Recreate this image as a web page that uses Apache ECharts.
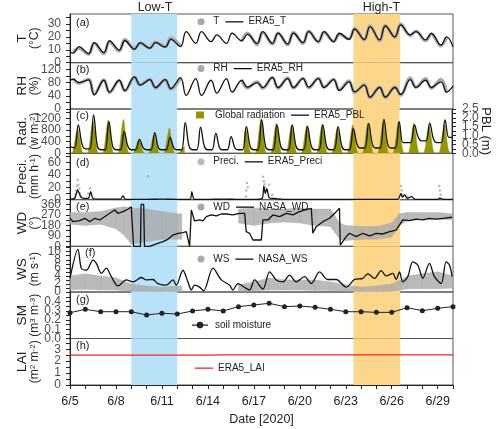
<!DOCTYPE html>
<html><head><meta charset="utf-8">
<script src="https://cdn.jsdelivr.net/npm/echarts@6/dist/echarts.min.js"></script>
<style>html,body{margin:0;padding:0;background:#fff}#c{width:500px;height:429px}</style>
</head><body><div id="c"></div>
<script>
// ================= DATA =================
// time unit: days since 2020-06-05 00:00
const dateLabels = ['6/5','6/8','6/11','6/14','6/17','6/20','6/23','6/26','6/29'];
const dateLabelDays = [0,3,6,9,12,15,18,21,24];
const lowTPeriod = [4.0, 7.0];
const highTPeriod = [18.5, 21.55];

// (a) temperature, per day [min at 05h, max at 14h]
const tEra5Start = 8.2, tEra5End = 12.4;
const tEra5 = [[7.5,12.4],[7.0,15.5],[7.8,17.0],[9.8,17.0],[10.4,15.5],[11.2,15.5],[12.0,18.0],[12.4,24.0],[15.0,24.0],[16.3,21.5],[15.0,22.8],[17.0,22.0],[15.0,24.0],[15.0,22.8],[14.5,22.8],[15.5,24.0],[16.3,24.0],[16.3,22.8],[18.0,25.9],[18.0,28.0],[17.6,28.4],[20.0,29.2],[21.5,24.0],[17.6,22.8],[13.7,20.0]];
const tObs = [[8.5,11.0],[6.5,15.0],[7.0,16.0],[9.0,18.0],[10.8,15.0],[11.5,16.0],[12.5,19.0],[13.0,null],[null,null],[null,null],[null,null],[16.5,23.0],[14.0,23.5],[14.5,23.0],[14.0,23.5],[15.0,24.5],[16.0,23.5],[16.5,22.0],[18.5,26.5],[17.5,28.5],[17.0,29.0],[19.5,30.0],[21.0,24.5],[17.0,22.0],[13.0,19.5]];
// (b) relative humidity, per day [max at 05h, min at 14h]
const rhEra5Start = 87, rhEra5End = 69;
const rhEra5 = [[90,80],[88,43],[87,51],[87,56],[97,72],[89,65],[89,62],[95,41],[92,41],[87,48],[92,51],[87,66],[80,65],[95,65],[92,65],[92,66],[92,65],[89,56],[82,52],[72,36],[65,36],[65,44],[89,65],[87,65],[82,51]];
const rhObs = [[92,78],[90,45],[88,50],[86,55],[96,74],[90,63],[88,60],[93,null],[null,null],[null,null],[null,null],[88,64],[82,62],[96,63],[94,64],[93,64],[93,66],[90,58],[85,50],[74,34],[66,35],[67,42],[94,66],[92,63],[90,50]];
// (c) global radiation, per day values at [06h,09h,12h,15h,18h] (0 at night)
const radObs = [[200,600,820,560,150],[220,750,1080,750,160],[220,760,1140,720,160],[220,800,1160,680,150],[120,320,455,320,100],[140,430,630,400,110],[180,560,860,520,130],[100,180,230,null,null],[null,null,null,null,null],[null,null,null,null,null],[null,null,null,null,null],[null,360,850,540,140],[220,760,1200,700,160],[210,700,1030,650,160],[200,650,970,600,150],[200,650,970,600,150],[200,660,1000,620,150],[190,600,860,560,140],[200,650,970,600,150],[210,700,1030,650,160],[210,720,1080,660,160],[210,720,1080,660,160],[210,700,1030,650,160],[200,660,970,600,150],[200,650,970,600,150]];
// (c) ERA5 PBL, per day values at [00h,07h,13h,19h]
const pblEra5End = 0.9;
const pblEra5 = [[0.37,0.3,1.6,0.5],[0.25,0.25,2.16,0.4],[0.2,0.2,1.78,0.4],[0.2,0.2,1.22,0.4],[0.2,0.2,0.79,0.3],[0.2,0.2,1.16,0.3],[0.2,0.2,0.9,0.3],[0.2,0.2,1.73,0.4],[0.2,0.2,1.47,0.4],[0.2,0.2,1.13,0.3],[0.2,0.2,0.94,0.3],[0.2,0.2,1.5,0.4],[0.2,0.2,1.88,0.4],[0.2,0.2,1.6,0.4],[0.2,0.2,1.6,0.4],[0.2,0.2,1.5,0.4],[0.2,0.2,1.6,0.4],[0.2,0.2,1.5,0.4],[0.2,0.2,1.41,0.5],[0.3,0.3,1.69,0.5],[0.3,0.3,1.92,0.5],[0.3,0.3,1.78,0.6],[0.6,0.6,1.6,0.9],[0.7,0.7,1.7,0.8],[0.6,0.6,1.88,0.9]];
// (d) precipitation [day, mm/h]
const preciObs = [[0.3,3],[0.35,8],[0.4,15],[0.45,22],[0.5,32],[0.5,12],[0.55,24],[0.6,18],[0.65,10],[0.7,5],[1.2,10],[1.3,18],[3.5,5],[5.1,38],[11.5,5],[11.5,15],[11.55,27],[11.6,20],[12.6,37],[12.65,30],[12.7,25],[12.75,20],[12.8,15],[13.0,24],[13.2,8],[21.6,22],[21.65,15],[21.7,8],[22.0,5],[24.1,22],[24.15,15],[24.2,8]];
const preciEra5 = [[0,1],[0.3,2],[0.5,16],[0.7,5],[0.9,2],[1.2,2],[1.35,13],[1.5,2],[2,1],[3.3,1],[3.45,6],[3.6,1],[5,0.5],[6,1],[7,0.5],[7.85,1],[7.95,13],[8.1,1],[9,0.5],[10,1],[11,0.5],[12,0.5],[12.55,2],[12.65,22],[12.75,10],[12.85,18],[13.0,3],[13.3,2],[14,0.5],[16,0.5],[18,0.5],[21.4,0.5],[21.6,10],[21.7,4],[21.85,8],[22.0,2],[22.3,5],[22.5,1],[23,0.5],[24.05,1],[24.15,3],[24.3,1],[25,0.5]];
// (e) wind direction: observed spread (low/high) and NASA line
const wdObsDays = [0,1,2,3,3.5,4,5,6,7,7.3,7.31,10.99,11,12,13,14,15,16,17,17.6,18,19,20,21,21.5,22,23,24,25];
const wdObsLow  = [190,180,190,150,100,20,40,60,60,60,null,null,200,180,200,210,200,180,170,60,50,60,60,80,180,220,230,230,230];
const wdObsHigh = [290,290,300,330,340,330,320,300,280,280,null,null,320,330,320,320,330,320,320,200,180,170,170,200,280,290,290,290,280];
const wdNasa = [[0,241],[0.2,212],[0.63,221],[0.96,241],[1.29,212],[1.61,241],[1.94,227],[2.26,255],[2.59,284],[2.92,313],[3.13,284],[3.46,298],[3.78,319],[4.0,341],[4.11,347],[4.15,0],[4.6,0],[4.64,360],[4.81,360],[4.86,0],[5.2,0],[5.64,20],[6.07,40],[6.39,60],[6.72,97],[7.05,112],[7.37,117],[7.59,126],[7.81,0],[7.92,313],[8.13,218],[8.46,227],[8.68,218],[8.9,255],[9.22,270],[9.55,261],[9.88,278],[10.2,278],[10.63,270],[11.07,284],[11.4,284],[11.5,126],[11.72,112],[11.94,54],[12.49,54],[12.59,227],[12.92,227],[13.24,270],[13.68,255],[14.12,284],[14.55,270],[14.98,298],[15.53,319],[15.75,327],[15.85,112],[16.07,169],[16.5,212],[16.94,241],[17.38,298],[17.59,327],[17.64,11],[18.03,83],[18.24,112],[18.68,83],[19.11,112],[19.55,89],[19.99,112],[20.42,106],[20.86,126],[21.29,140],[21.51,184],[21.72,227],[22.16,221],[22.6,233],[23.03,227],[23.46,241],[23.9,233],[24.33,241],[24.94,250]];
// (f) wind speed: observed spread (low/high) and NASA line
const wsObsDays = [0,1,2,3,4,5,6,7,7.3,7.31,10.99,11,12,13,14,15,16,17,18,19,20,21,21.6,22,23,24,25];
const wsObsLow  = [0.5,0.7,0.5,0.5,0.2,0.1,0.1,0.1,0.1,null,null,0.2,0.3,0.5,0.5,0.5,0.4,0.4,0.2,0.1,0.1,0.2,0.5,0.8,0.8,0.8,1.0];
const wsObsHigh = [4.0,4.5,4.0,3.5,2.0,1.5,1.2,1.5,1.5,null,null,1.8,2.5,3.5,3.0,3.0,3.0,2.5,1.8,1.2,1.5,2.0,3.0,4.0,4.5,5.0,4.0];
const wsNasa = [[0,3.4],[0.52,10.6],[0.74,5.9],[1.07,5.4],[1.5,7.9],[1.72,7.1],[2.05,4.6],[2.37,5.9],[2.7,3.8],[3.13,1.5],[3.68,3.0],[4.11,2.5],[4.66,3.6],[4.98,3.0],[5.41,3.1],[5.74,2.1],[6.29,1.7],[6.72,3.0],[6.94,1.7],[7.37,5.4],[7.7,2.5],[7.92,0.5],[8.13,1.7],[8.46,1.2],[8.72,0.3],[9.33,5.9],[9.88,3.0],[10.42,1.7],[10.63,0.5],[10.96,2.1],[11.5,0.9],[11.72,0.5],[12.05,3.0],[12.59,0.7],[13.03,5.0],[13.46,3.0],[13.89,2.5],[14.33,4.2],[14.77,2.5],[15.31,3.8],[15.75,2.1],[16.29,5.0],[16.83,3.1],[17.38,3.1],[18.03,1.2],[18.57,3.1],[19.11,3.4],[19.44,4.5],[19.88,3.4],[20.31,5.3],[20.64,4.0],[21.07,4.6],[21.29,3.1],[21.51,5.0],[21.72,2.5],[22.05,3.8],[22.37,7.5],[22.7,6.7],[23.03,3.4],[23.46,7.1],[23.79,3.8],[24.23,2.1],[24.55,7.5],[24.77,6.7],[24.94,3.8]];
// (g) soil moisture, daily at 00h (6/5 ... 6/30)
const smObs = [0.280,0.317,0.291,0.291,0.291,0.255,0.274,0.266,0.299,0.317,0.299,0.346,0.364,0.382,0.346,0.353,0.339,0.317,0.291,0.291,0.284,0.284,0.335,0.302,0.328,0.346];
// (h) ERA5 LAI, daily at 00h
const laiEra5 = [2.50,2.50,2.50,2.50,2.50,2.51,2.51,2.51,2.51,2.51,2.52,2.52,2.52,2.52,2.52,2.52,2.52,2.52,2.52,2.52,2.52,2.52,2.52,2.52,2.52,2.52];

// axis tick values / labels
const tTicks = {labels:[0,10,20,30], ticks:[0,5,10,15,20,25,30,35], max:37.7};
const rhTicks = {labels:[0,40,80,120], ticks:[0,20,40,60,80,100,120,140], max:140};
const radTicks = {labels:[0,400,800,1200], ticks:[0,200,400,600,800,1000,1200,1400], max:1519};
const pblTicks = {labels:[0,0.5,1.0,1.5,2.0,2.5], ticks:[0,0.25,0.5,0.75,1,1.25,1.5,1.75,2,2.25,2.5], max:2.5};
const preciTicks = {labels:[0,20,40,60], ticks:[0,10,20,30,40,50,60,70], max:75};
const wdTicks = {labels:[0,90,180,270,360], ticks:[0,45,90,135,180,225,270,315,360], max:401};
const wsTicks = {labels:[0,2,4,6,8,10], ticks:[0,1,2,3,4,5,6,7,8,9,10,11], max:11.34};
const smTicks = {labels:[0,0.1,0.2,0.3,0.4], ticks:[0,0.05,0.1,0.15,0.2,0.25,0.3,0.35,0.4,0.45,0.5], max:0.505};
const laiTicks = {labels:[0,1,2,3], ticks:[0,0.5,1,1.5,2,2.5,3,3.5], max:3.9};

// ================= BUILD =================
const FONT = '"Liberation Sans", Arial, sans-serif';
const INK = '#222';
const GREY = '#a9a9a9';
const OLIVE = '#959500';
// legend icons drawn in an 18x7 box
const LINE_ICON = 'path://M0,0M0,3H18V4.3H0ZM18,7';
const DOT_ICON = 'path://M0,0M7.2,3.5A3.5,3.5 0 1 1 14.2,3.5A3.5,3.5 0 1 1 7.2,3.5ZM18,7';
const SQUARE_ICON = 'path://M0,0M4,0H12V7H4ZM18,7';
const LINE_DOT_ICON = 'path://M0,0M0,3H16V4.2H0ZM4.7,3.6A3.3,3.3 0 1 1 11.3,3.6A3.3,3.3 0 1 1 4.7,3.6ZM18,7';

function dailyPairs(arr, hours) {
  const out = [];
  arr.forEach((vals, d) => vals.forEach((v, i) => out.push([d + hours[i] / 24, v])));
  return out;
}

const tEra5Data = [[0, tEra5Start]].concat(dailyPairs(tEra5, [5, 14]), [[25, tEra5End]]);
const tObsData = dailyPairs(tObs, [5, 14]);
const rhEra5Data = [[0, rhEra5Start]].concat(dailyPairs(rhEra5, [5, 14]), [[25, rhEra5End]]);
const rhObsData = dailyPairs(rhObs, [5, 14]);
const radData = [];
radObs.forEach((vals, d) => {
  const hasDay = vals.some(v => v != null);
  radData.push([d, hasDay ? 0 : null], [d + 3/24, hasDay ? 0 : null]);
  vals.forEach((v, i) => radData.push([d + (6 + 3 * i) / 24, v]));
  radData.push([d + 21/24, hasDay ? 0 : null]);
});
const pblData = dailyPairs(pblEra5, [0, 7, 13, 19]).concat([[25, pblEra5End]]);
const smData = smObs.map((v, i) => [i, v]);
const laiData = laiEra5.map((v, i) => [i, v]);

const grids = [
  {top:14, height:48.7}, {top:62.7, height:46.3}, {top:109, height:44.3}, {top:153.3, height:46.4},
  {top:199.7, height:46.6}, {top:246.3, height:45.7}, {top:292, height:46.5}, {top:338.5, height:46.5}
].map(g => Object.assign({left:70, width:383, show:true, borderColor:'#555', borderWidth:1}, g));

const xAxes = grids.map((g, i) => {
  const last = i === grids.length - 1;
  return {
    type:'value', gridIndex:i, min:0, max:25,
    axisLine:{show:last, lineStyle:{color:INK, width:1}},
    axisTick:{show:last, length:4, lineStyle:{color:INK}, customValues:Array.from({length:26}, (_, k) => k)},
    axisLabel:{show:last, customValues:dateLabelDays, interval:0, margin:10, fontSize:12.5, color:INK, fontFamily:FONT,
      showMinLabel:true, showMaxLabel:true, hideOverlap:false,
      formatter: v => dateLabels[dateLabelDays.indexOf(v)]},
    splitLine:{show:false},
    name:last ? 'Date [2020]' : '', nameLocation:'middle', nameGap:28, nameMoveOverlap:false,
    nameTextStyle:{fontSize:12.5, color:INK, fontFamily:FONT}
  };
});

function yAx(i, tk, name, rich) {
  return {
    type:'value', gridIndex:i, min:0, max:tk.max, position:'left',
    axisLine:{show:true, lineStyle:{color:INK, width:1}},
    axisTick:{show:true, length:4, inside:false, customValues:tk.ticks, lineStyle:{color:INK}},
    axisLabel:{show:false},
    splitLine:{show:false},
    name:name, nameLocation:'middle', nameRotate:90, nameGap:28.5, nameMoveOverlap:false,
    nameTextStyle:{color:INK, fontFamily:FONT, lineHeight:13, rich:rich}
  };
}
const R = {
  a:{fontSize:13.5, fontFamily:FONT, color:INK, lineHeight:13},
  b:{fontSize:12, fontFamily:FONT, color:INK, lineHeight:13},
  s:{fontSize:8, fontFamily:FONT, color:INK, verticalAlign:'top', lineHeight:13}
};
const yAxes = [
  yAx(0, tTicks, '{a|T}\n{b|(°C)}', R),
  yAx(1, rhTicks, '{a|RH}\n{b|(%)}', R),
  yAx(2, radTicks, '{a|Rad.}\n{b|(w m}{s|-2}{b|)}', R),
  yAx(3, preciTicks, '{a|Preci.}\n{b|(mm h}{s|-1}{b|)}', R),
  yAx(4, wdTicks, '{a|WD}\n{b|(°)}', R),
  yAx(5, wsTicks, '{a|WS}\n{b|(m s}{s|-1}{b|)}', R),
  yAx(6, smTicks, '{a|SM}\n{b|(m}{s|3}{b| m}{s|-3}{b|)}', R),
  yAx(7, laiTicks, '{a|LAI}\n{b|(m}{s|2}{b| m}{s|-2}{b|)}', R),
  {
    type:'value', gridIndex:2, min:0, max:pblTicks.max, position:'right',
    axisLine:{show:true, lineStyle:{color:INK}},
    axisTick:{show:true, length:4, customValues:pblTicks.ticks, lineStyle:{color:INK}},
    axisLabel:{show:false},
    splitLine:{show:false},
    name:'PBL (m)', nameLocation:'middle', nameRotate:-90, nameGap:27, nameMoveOverlap:false,
    nameTextStyle:{fontSize:13, color:INK, fontFamily:FONT}
  }
];

// tick labels placed through each axis' own scale (every label kept, overlapping like the original)
function tickLabels(gi, yi, tk, digits, atX, side) {
  return {
    type:'scatter', xAxisIndex:gi, yAxisIndex:yi, data:tk.labels.map(v => [atX, v]),
    symbolSize:0, silent:true, animation:false, clip:false, z:10,
    label:{show:true, position:side, distance:side === 'left' ? 9 : 10, fontSize:12, color:INK, fontFamily:FONT,
      formatter: p => p.value[1].toFixed(digits)},
    labelLayout:{hideOverlap:false}
  };
}

const bands = {
  silent:true,
  data:[
    [{xAxis:lowTPeriod[0], itemStyle:{color:'#b7e2f8'}}, {xAxis:lowTPeriod[1]}],
    [{xAxis:highTPeriod[0], itemStyle:{color:'#fcd68a'}}, {xAxis:highTPeriod[1]}]
  ]
};
function line(name, gi, data, color, width, extra) {
  return Object.assign({
    type:'line', name:name, xAxisIndex:gi, yAxisIndex:gi, data:data, showSymbol:false, symbol:'none',
    lineStyle:{color:color, width:width}, itemStyle:{color:color}, connectNulls:false, animation:false, z:3
  }, extra || {});
}
function spread(name, gi, days, lo, hi) {
  const rows = days.map((d, i) => [d, lo[i], hi[i]]);
  return {
    type:'custom', name:name, xAxisIndex:gi, yAxisIndex:gi, data:rows, z:2, animation:false,
    itemStyle:{color:GREY}, encode:{x:0, y:[1, 2]}, silent:true,
    renderItem: function (params, api) {
      const i = params.dataIndex;
      if (i >= rows.length - 1) return null;
      const a = rows[i], b = rows[i + 1];
      if (a[1] == null || b[1] == null || a[2] == null || b[2] == null) return null;
      const pts = [api.coord([a[0], a[1]]), api.coord([b[0], b[1]]), api.coord([b[0], b[2]]), api.coord([a[0], a[2]])];
      return {type:'polygon', shape:{points:pts}, style:{fill:GREY, opacity:0.8, stroke:GREY, lineWidth:0.5}};
    }
  };
}

const series = [
  line('T', 0, tObsData, GREY, 3.2, {smooth:0.4, markArea:bands, z:2}),
  line('ERA5_T', 0, tEra5Data, '#111', 1.3, {smooth:0.4}),
  line('RH', 1, rhObsData, GREY, 3.2, {smooth:0.4, markArea:bands, z:2}),
  line('ERA5_RH', 1, rhEra5Data, '#111', 1.3, {smooth:0.4}),
  line('Global radiation', 2, radData, OLIVE, 0.5, {smooth:0.3, areaStyle:{color:OLIVE, opacity:1}, markArea:bands, z:2}),
  line('ERA5_PBL', 2, pblData, '#111', 1.3, {smooth:0.4, yAxisIndex:8}),
  {type:'scatter', name:'Preci.', xAxisIndex:3, yAxisIndex:3, data:preciObs, symbolSize:2.5,
    itemStyle:{color:GREY}, animation:false, markArea:bands, z:2},
  line('ERA5_Preci', 3, preciEra5, '#111', 1.3, {smooth:0.2}),
  spread('WD', 4, wdObsDays, wdObsLow, wdObsHigh),
  line('NASA_WD', 4, wdNasa, '#111', 1.3, {markArea:bands}),
  spread('WS', 5, wsObsDays, wsObsLow, wsObsHigh),
  line('NASA_WS', 5, wsNasa, '#111', 1.3, {smooth:0.3, markArea:bands}),
  line('soil moisture', 6, smData, '#222', 1, {showSymbol:true, symbol:'circle', symbolSize:5, markArea:bands}),
  line('ERA5_LAI', 7, laiData, '#ff2020', 1.3, {markArea:bands}),
  tickLabels(0, 0, tTicks, 0, 0, 'left'),
  tickLabels(1, 1, rhTicks, 0, 0, 'left'),
  tickLabels(2, 2, radTicks, 0, 0, 'left'),
  tickLabels(2, 8, pblTicks, 1, 25, 'right'),
  tickLabels(3, 3, preciTicks, 0, 0, 'left'),
  tickLabels(4, 4, wdTicks, 0, 0, 'left'),
  tickLabels(5, 5, wsTicks, 0, 0, 'left'),
  tickLabels(6, 6, smTicks, 1, 0, 'left'),
  tickLabels(7, 7, laiTicks, 0, 0, 'left')
];

const legBase = {orient:'horizontal', itemWidth:18, itemHeight:7, itemGap:6, padding:0, selectedMode:false,
  textStyle:{fontSize:10, color:INK, fontFamily:FONT}};
const dot = n => ({name:n, icon:DOT_ICON, itemStyle:{color:GREY}});
const ln = n => ({name:n, icon:LINE_ICON});
const legends = [
  {left:190.3, top:16.7, data:[dot('T'), ln('ERA5_T')]},
  {left:190.3, top:63.5, data:[dot('RH'), ln('ERA5_RH')]},
  {left:192, top:110, data:[{name:'Global radiation', icon:SQUARE_ICON}, ln('ERA5_PBL')]},
  {left:190.3, top:156.7, data:[dot('Preci.'), ln('ERA5_Preci')]},
  {left:190.3, top:202, data:[dot('WD'), ln('NASA_WD')]},
  {left:190.3, top:254, data:[dot('WS'), ln('NASA_WS')]},
  {left:192, top:320, data:[{name:'soil moisture', icon:LINE_DOT_ICON}]},
  {left:195, top:363, data:[ln('ERA5_LAI')]}
].map(l => Object.assign({}, legBase, l));

const panelLabels = [['(a)',76,23],['(b)',76,70],['(c)',76,116],['(d)',76,163],['(e)',76,207],['(f)',85,253],['(g)',76,300],['(h)',76,346]];
const graphic = panelLabels.map(p => ({type:'text', x:p[1], y:p[2],
  style:{text:p[0], font:'11px ' + FONT, fill:INK, textVerticalAlign:'middle'}, z:100}))
  .concat([
    {type:'text', x:155, y:8, style:{text:'Low-T', font:'12.5px ' + FONT, fill:INK, textAlign:'center', textVerticalAlign:'middle'}},
    {type:'text', x:381.5, y:8, style:{text:'High-T', font:'12.5px ' + FONT, fill:INK, textAlign:'center', textVerticalAlign:'middle'}}
  ]);

const chart = echarts.init(document.getElementById('c'), null, {renderer:'canvas'});
chart.setOption({
  animation:false, backgroundColor:'#fff',
  grid:grids, xAxis:xAxes, yAxis:yAxes, series:series, legend:legends, graphic:graphic
});
</script></body></html>
